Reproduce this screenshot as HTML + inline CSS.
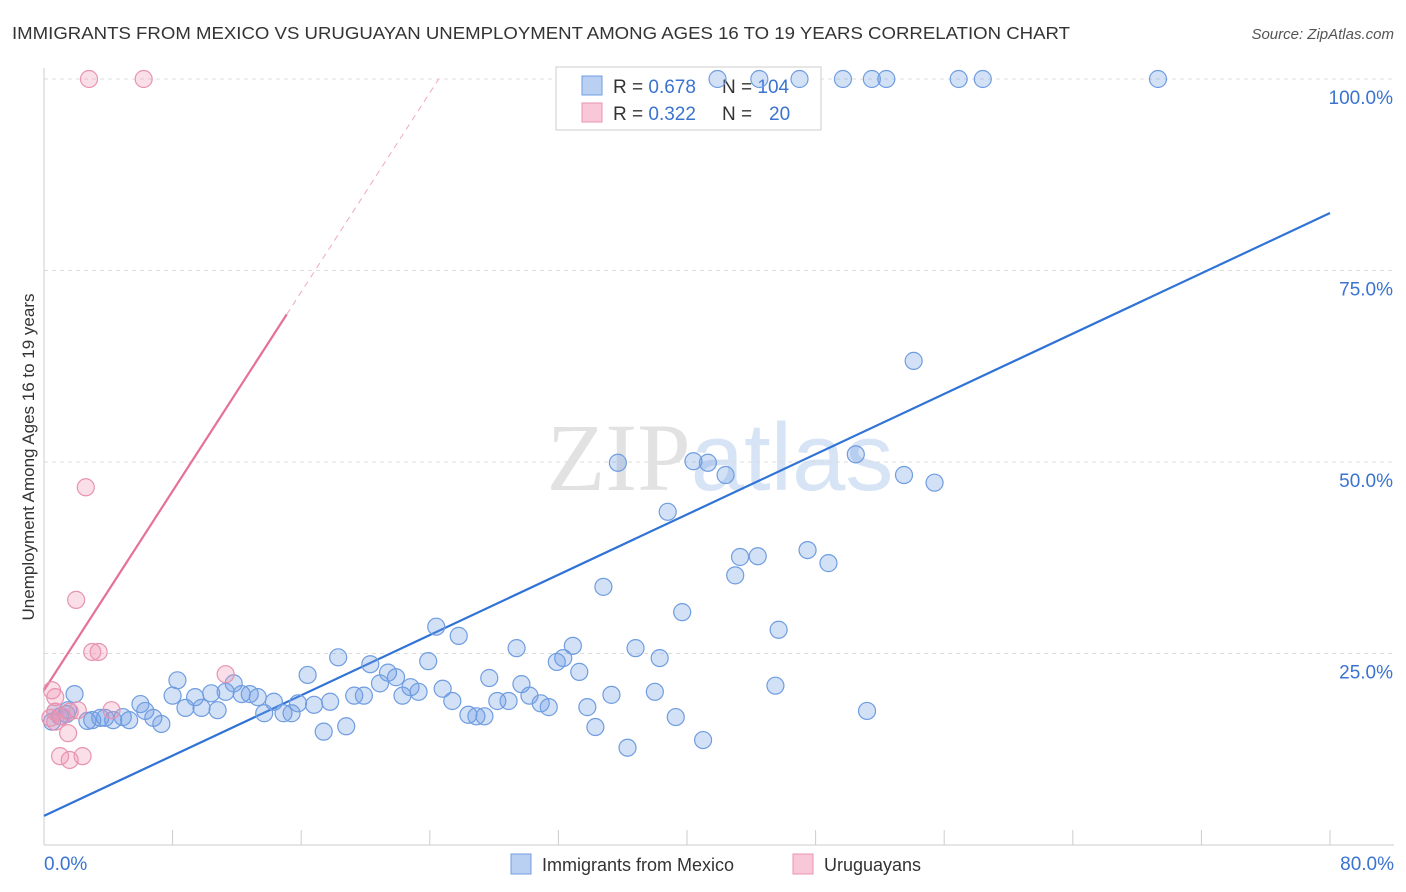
<!DOCTYPE html>
<html><head><meta charset="utf-8"><style>
body{margin:0;background:#fff;font-family:"Liberation Sans",sans-serif;}
svg{display:block}
</style></head><body>
<svg id="chart" width="1406" height="892" xmlns="http://www.w3.org/2000/svg">
<text x="12" y="39" font-size="17.5" fill="#333" textLength="1058" lengthAdjust="spacingAndGlyphs">IMMIGRANTS FROM MEXICO VS URUGUAYAN UNEMPLOYMENT AMONG AGES 16 TO 19 YEARS CORRELATION CHART</text>
<text x="1394" y="39" font-size="15" fill="#555" text-anchor="end" font-style="italic">Source: ZipAtlas.com</text>
<text x="720" y="490" font-size="96" text-anchor="middle" fill="#e2e2e2" font-family="Liberation Serif, serif">ZIP<tspan fill="#d6e4f5" font-family="Liberation Sans, sans-serif">atlas</tspan></text>
<text transform="translate(34,457) rotate(-90)" font-size="17" fill="#333" text-anchor="middle">Unemployment Among Ages 16 to 19 years</text>
<g id="grid"></g><g id="ticks"></g><g id="lines"></g>
<g>
<rect x="556" y="67" width="265" height="63" fill="#fff" stroke="#ccc"/>
<rect x="582" y="76" width="20" height="19" fill="#b9d0f2" stroke="#6f9de0"/>
<rect x="582" y="103" width="20" height="19" fill="#f8c8d8" stroke="#e893b0"/>
<text x="613" y="93" font-size="19" fill="#333">R = <tspan fill="#3a73d0">0.678</tspan></text>
<text x="722" y="93" font-size="19" fill="#333">N = <tspan fill="#3a73d0">104</tspan></text>
<text x="613" y="120" font-size="19" fill="#333">R = <tspan fill="#3a73d0">0.322</tspan></text>
<text x="722" y="120" font-size="19" fill="#333">N = </text>
<text x="769" y="120" font-size="19" fill="#3a73d0">20</text>
</g>
<g id="pts"></g>
<g>
<rect x="511" y="854" width="20" height="20" fill="#b9d0f2" stroke="#6f9de0"/>
<text x="542" y="871" font-size="18" fill="#333">Immigrants from Mexico</text>
<rect x="793" y="854" width="20" height="20" fill="#f8c8d8" stroke="#e893b0"/>
<text x="824" y="871" font-size="18" fill="#333">Uruguayans</text>
</g>
</svg>
<script>
const xTicks=[0,8,16,24,32,40,48,56,64,72,80];
const yTicks=[25,50,75,100];
const blueX=[0.5,0.7,1.0,1.4,1.9,1.5,2.7,3.0,3.5,3.8,4.3,4.9,5.3,6.0,6.3,6.8,7.3,8.0,8.3,8.8,9.4,9.8,10.4,10.8,11.3,11.8,12.3,12.8,13.3,13.7,14.3,14.9,15.4,15.8,16.4,16.8,17.4,17.8,18.3,18.8,19.3,19.9,20.3,20.9,21.4,21.9,22.3,22.8,23.3,23.9,24.4,24.8,25.4,25.8,26.4,26.9,27.4,27.7,28.2,28.9,29.4,29.7,30.2,30.9,31.4,31.9,32.3,32.9,33.3,33.8,34.3,34.8,35.3,35.7,36.3,36.8,38.0,38.3,38.8,39.3,39.7,40.4,41.0,41.3,41.9,42.4,43.0,43.3,44.4,45.7,45.5,44.5,47.0,47.5,48.8,49.7,50.5,51.2,51.5,52.4,53.5,54.1,55.4,56.9,58.4,69.3];
const blueY=[16.1,17.4,16.8,17.1,19.7,17.6,16.2,16.3,16.6,16.6,16.3,16.7,16.3,18.4,17.5,16.6,15.8,19.5,21.5,17.9,19.3,17.9,19.8,17.6,20.0,21.1,19.7,19.7,19.3,17.2,18.7,17.2,17.2,18.5,22.2,18.3,14.8,18.7,24.5,15.5,19.5,19.5,23.6,21.1,22.5,21.9,19.5,20.6,20.0,24.0,28.5,20.4,18.8,27.3,17.0,16.8,16.8,21.8,18.8,18.8,25.7,21.0,19.5,18.5,18.0,23.9,24.4,26.0,22.6,18.0,15.4,33.7,19.6,49.9,12.7,25.7,20.0,24.4,43.5,16.7,30.4,50.1,13.7,49.9,100,48.3,35.2,37.6,37.7,28.1,20.8,100,100,38.5,36.8,100,51.0,17.5,100,100,48.3,63.2,47.3,100,100,100];
const pinkX=[0.5,0.7,0.4,0.7,1.1,1.6,2.1,1.0,1.5,1.6,2.4,2.6,2.0,3.0,3.4,4.2,11.3,2.8,6.2,0.7];
const pinkY=[20.2,19.3,16.6,17.4,16.8,17.4,17.6,11.6,14.6,11.1,11.6,46.7,32.0,25.2,25.2,17.6,22.3,100,100,16.1];
const blueFit=[3.8,82.5];   // y at x=0 and x=80
const pinkFit=[20.2,3.25];  // intercept, slope
const NS="http://www.w3.org/2000/svg";
const X=v=>44+v*16.075, Y=v=>845-v*7.66;
function mk(t,a,p){const e=document.createElementNS(NS,t);for(const k in a)e.setAttribute(k,a[k]);document.getElementById(p).appendChild(e);return e;}
yTicks.forEach(t=>{
 const g=mk('line',{x1:44,x2:1394,y1:Y(t),y2:Y(t),stroke:'#ddd','stroke-dasharray':'4,4'},'grid');
 
 
 const l=mk('text',{x:1393,y:Y(t)+25,'font-size':19,fill:'#3a73d0','text-anchor':'end'},'grid');l.textContent=t.toFixed(1)+'%';
 
 
});
mk('line',{x1:44,x2:44,y1:68,y2:845,stroke:'#ccc'},'grid');
mk('line',{x1:44,x2:1394,y1:845,y2:845,stroke:'#ccc'},'grid');
xTicks.forEach(t=>{const m=mk('line',{x1:X(t),x2:X(t),y1:830,y2:845,stroke:'#ccc'},'ticks');
 
 });
[[0,'0.0%','start',44],[80,'80.0%','end',1394]].forEach(d=>{const l=mk('text',{x:d[3],y:870,'font-size':19,fill:'#3a73d0','text-anchor':d[2]},'ticks');l.textContent=d[1];
 
 });
function pt(xs,ys,fill,stroke,name){xs.forEach((x,i)=>{const c=mk('circle',{cx:X(x),cy:Y(ys[i]),r:8.5,fill:fill,stroke:stroke,'stroke-width':1.2},'pts');
 
 });}
pt(blueX,blueY,'rgba(110,155,230,0.3)','#6f9de0','mexico-point');
pt(pinkX,pinkY,'rgba(240,150,180,0.3)','#e893b0','uruguayan-point');
const bl=mk('line',{x1:X(0),y1:Y(blueFit[0]),x2:X(80),y2:Y(blueFit[1]),stroke:'#2f73d6','stroke-width':2.2},'lines');


const xe=15.1,xd=(100-pinkFit[0])/pinkFit[1];
const pl=mk('line',{x1:X(0),y1:Y(pinkFit[0]),x2:X(xe),y2:Y(pinkFit[0]+pinkFit[1]*xe),stroke:'#e6709a','stroke-width':2.2},'lines');


const pd=mk('line',{x1:X(xe),y1:Y(pinkFit[0]+pinkFit[1]*xe),x2:X(xd),y2:Y(100),stroke:'#f0a8c0','stroke-width':1,'stroke-dasharray':'6,5'},'lines');


</script>
</body></html>
